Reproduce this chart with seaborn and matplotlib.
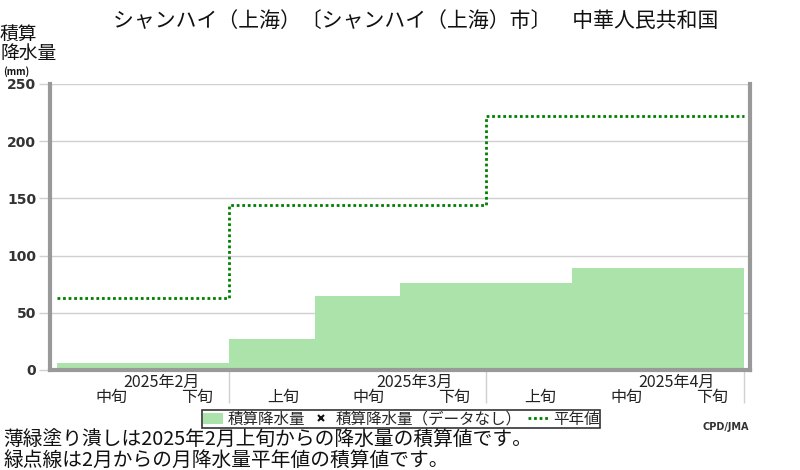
import numpy as np
import pandas as pd
import matplotlib
matplotlib.use('Agg')
import matplotlib.pyplot as plt
from matplotlib.patches import Patch
from matplotlib.lines import Line2D
import seaborn as sns

dekads = ['2月中旬', '2月下旬', '3月上旬', '3月中旬', '3月下旬', '4月上旬', '4月中旬', '4月下旬']
dekad_labels = ['中旬', '下旬', '上旬', '中旬', '下旬', '上旬', '中旬', '下旬']
precip = [6, 6, 27, 65, 76, 76, 89, 89]
normal = [62.5, 62.5, 144, 144, 144, 222, 222, 222]
month_labels = ['2025年2月', '2025年3月', '2025年4月']
month_label_pos = [0.72, 3.66, 6.72]
month_edges = [1.5, 4.5, 7.5]

sns.set_theme(style='white')
plt.rcParams['font.family'] = ['Noto Sans CJK JP', 'DejaVu Sans']

fill_col = '#abe3aa'
line_col = '#008000'

table = pd.DataFrame({'dekad': dekads, 'precip': precip})

fig = plt.figure(figsize=(8, 4.7), dpi=100)
ax = fig.add_axes([0.0625, 0.2128, 0.875, 0.6085])

ax.yaxis.grid(True, color='#d0d0d0', linewidth=1)
ax.set_axisbelow(True)
sns.barplot(data=table, x='dekad', y='precip', order=dekads, width=1.0,
            color=fill_col, saturation=1, edgecolor='none', ax=ax)

# normal: step line over dekad edges
edges = np.arange(len(dekads) + 1) - 0.5
ax.step(edges, normal + [normal[-1]], where='post', color=line_col,
        linestyle=(0, (1.0, 1.0)), linewidth=2)

ax.set_xlim(-0.58, 7.57)
ax.set_ylim(0, 250)
ax.set_yticks([0, 50, 100, 150, 200, 250])
ax.set_yticklabels(['0', '50', '100', '150', '200', '250'],
                   fontfamily='DejaVu Sans', fontweight='bold', fontsize=10, color='#333333')
ax.tick_params(axis='y', length=8, color='#d0d0d0', width=1, pad=2, left=True)
ax.set_xlabel('')
ax.set_ylabel('')

ax.set_xticks(month_edges, minor=True)
ax.set_xticks([])
ax.tick_params(axis='x', which='minor', length=24, color='#d0d0d0', width=1, bottom=True)

for s in ['left', 'bottom', 'right']:
    ax.spines[s].set_color('#999999')
    ax.spines[s].set_linewidth(3)
ax.spines['top'].set_visible(False)

for i, lab in enumerate(dekad_labels):
    ax.text(i + 0.13, -0.095, lab, transform=ax.get_xaxis_transform(),
            ha='center', va='center', fontsize=11.5, color='#222222')
for pos, lab in zip(month_label_pos, month_labels):
    ax.text(pos, -0.045, lab, transform=ax.get_xaxis_transform(),
            ha='center', va='center', fontsize=11.5, color='#222222')

fig.text(0.52, 0.955, 'シャンハイ（上海）〔シャンハイ（上海）市〕　中華人民共和国',
         ha='center', va='center', fontsize=15, color='#111111')
fig.text(0.0, 0.95, '積算\n降水量', ha='left', va='top', fontsize=13.5,
         linespacing=0.92, color='#111111')
fig.text(0.004, 0.836, '(mm)', ha='left', va='bottom', fontsize=7,
         fontweight='bold', color='#111111')

handles = [Patch(facecolor=fill_col, edgecolor='none'),
           Line2D([], [], marker='x', linestyle='none', color='#111111', markersize=5,
                  markeredgewidth=1.5),
           Line2D([], [], color=line_col, linestyle=(0, (1.0, 1.0)), linewidth=2)]
leg = fig.legend(handles, ['積算降水量', '積算降水量（データなし）', '平年値'],
                 loc='center', bbox_to_anchor=(0.5014, 0.1085), ncol=3, fontsize=11.2,
                 frameon=True, fancybox=False, borderpad=0.05, handlelength=1.3,
                 handletextpad=0.3, columnspacing=0.4, borderaxespad=0, labelspacing=0)
leg.get_frame().set_edgecolor('#000000')
leg.get_frame().set_linewidth(1.2)

fig.text(0.907, 0.092, 'CPD/JMA', ha='center', va='center', fontsize=7,
         fontfamily='DejaVu Sans', fontweight='bold', color='#333333')
fig.text(0.004, 0.063, '薄緑塗り潰しは2025年2月上旬からの降水量の積算値です。',
         ha='left', va='center', fontsize=14.2, color='#111111')
fig.text(0.004, 0.021, '緑点線は2月からの月降水量平年値の積算値です。',
         ha='left', va='center', fontsize=14.2, color='#111111')

fig.savefig('out.png', dpi=100, facecolor='white')
